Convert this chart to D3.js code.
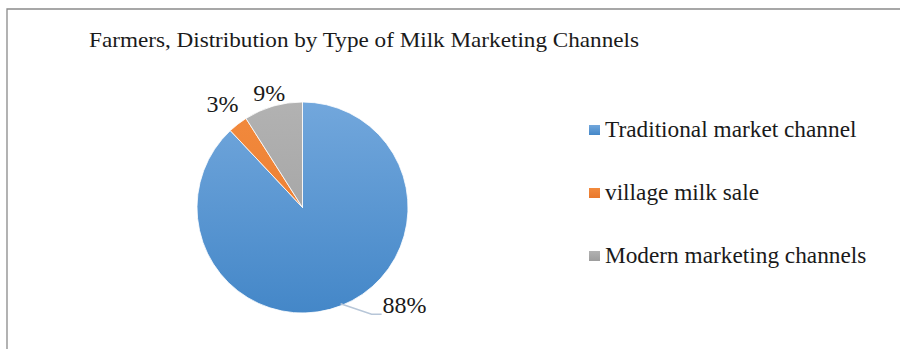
<!DOCTYPE html>
<html>
<head>
<meta charset="utf-8">
<script src="https://cdn.jsdelivr.net/npm/d3@7"></script>
<style>
  body { margin: 0; background: #fff; }
  svg { display: block; font-family: "Liberation Serif", "Times New Roman", serif; }
</style>
</head>
<body>
<svg width="900" height="349"></svg>
<script>
// chart data
var categories = ["Traditional market channel", "village milk sale", "Modern marketing channels"];
var shares = [88, 3, 9];
var labels = ["88%", "3%", "9%"];
var colorsTop = ["#72a7dc", "#f28a3d", "#b2b2b2"];
var colorsBottom = ["#4487c8", "#e9782c", "#9d9d9d"];

var svg = d3.select("svg"),
    cx = 302.5, cy = 207.5, radius = 105.5;

// chart frame (only top and left edges show)
svg.append("path")
    .attr("d", "M7,349 L7,9 L900,9")
    .attr("fill", "none")
    .attr("stroke", "#8a8a8a")
    .attr("stroke-width", 1.3);

svg.append("text")
    .attr("x", 89).attr("y", 47)
    .attr("font-size", 21)
    .attr("fill", "#1a1a1a")
    .attr("textLength", 550)
    .attr("lengthAdjust", "spacingAndGlyphs")
    .text("Farmers, Distribution by Type  of Milk Marketing Channels");

var defs = svg.append("defs");
categories.forEach(function(c, i) {
  var lg = defs.append("linearGradient")
      .attr("id", "grad" + i)
      .attr("gradientUnits", "userSpaceOnUse")
      .attr("x1", 0).attr("y1", -radius).attr("x2", 0).attr("y2", radius);
  lg.append("stop").attr("offset", "0%").attr("stop-color", colorsTop[i]);
  lg.append("stop").attr("offset", "100%").attr("stop-color", colorsBottom[i]);
  var lg2 = defs.append("linearGradient")
      .attr("id", "lgrad" + i)
      .attr("x1", 0).attr("y1", 0).attr("x2", 0).attr("y2", 1);
  lg2.append("stop").attr("offset", "0%").attr("stop-color", colorsTop[i]);
  lg2.append("stop").attr("offset", "100%").attr("stop-color", colorsBottom[i]);
});

var pie = d3.pie().sort(null).value(function(d) { return d; });
var arcs = pie(shares);

var arc = d3.arc().innerRadius(0).outerRadius(radius);

var g = svg.append("g").attr("transform", "translate(" + cx + "," + cy + ")");

g.selectAll("path.slice")
    .data(arcs)
    .enter().append("path")
    .attr("class", "slice")
    .attr("d", arc)
    .attr("fill", function(d, i) { return "url(#grad" + i + ")"; })
    .attr("stroke", "#fff")
    .attr("stroke-width", 0.8);

// data labels
function midPoint(d, r) {
  var a = (d.startAngle + d.endAngle) / 2;
  return [Math.sin(a) * r, -Math.cos(a) * r];
}

// distance of small-slice labels beyond the rim (tuned by eye)
var labelPad = [0, 25, 14];

arcs.forEach(function(d, i) {
  if (i === 0) {
    // big slice: label outside with a leader line
    var p0 = midPoint(d, radius - 2);
    var p1 = [p0[0] + 31, p0[1] + 10.5];
    var p2 = [p1[0] + 10, p1[1]];
    g.append("polyline")
        .attr("points", [p0, p1, p2].map(function(p) { return p.join(","); }).join(" "))
        .attr("fill", "none")
        .attr("stroke", "#b7c6d8")
        .attr("stroke-width", 1.5);
    g.append("text")
        .attr("x", p2[0] + 1).attr("y", p2[1] - 1)
        .attr("font-size", 24)
        .attr("fill", "#1a1a1a")
        .text(labels[i]);
  } else {
    var p = midPoint(d, radius + labelPad[i]);
    g.append("text")
        .attr("x", p[0]).attr("y", p[1])
        .attr("dy", "0.33em")
        .attr("text-anchor", "middle")
        .attr("font-size", 24)
        .attr("fill", "#1a1a1a")
        .text(labels[i]);
  }
});

// legend
var legend = svg.append("g").selectAll("g")
    .data(categories)
    .enter().append("g")
    .attr("transform", function(d, i) { return "translate(589," + (137 + i * 63) + ")"; });

legend.append("rect")
    .attr("x", 0).attr("y", -12)
    .attr("width", 11).attr("height", 10)
    .attr("fill", function(d, i) { return "url(#lgrad" + i + ")"; });

legend.append("text")
    .attr("x", 16).attr("y", 0)
    .attr("font-size", 23.3)
    .attr("fill", "#1a1a1a")
    .text(function(d) { return d; });
</script>
</body>
</html>
